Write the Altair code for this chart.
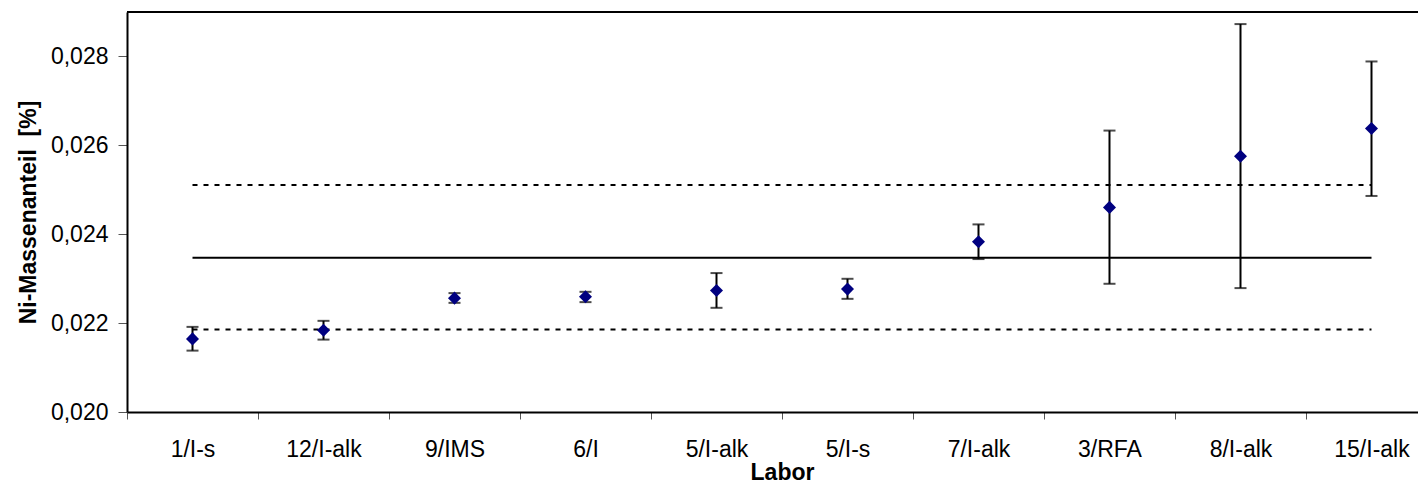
import altair as alt
import pandas as pd

labs = ["1/I-s", "12/I-alk", "9/IMS", "6/I", "5/I-alk", "5/I-s", "7/I-alk", "3/RFA", "8/I-alk", "15/I-alk"]
vals = [0.021645, 0.021841, 0.022562, 0.022592, 0.022734, 0.022765, 0.023831, 0.024604, 0.025753, 0.026377]
lows = [0.021381, 0.021629, 0.022456, 0.022472, 0.022344, 0.022546, 0.023441, 0.022885, 0.022788, 0.024861]
highs = [0.021915, 0.022051, 0.022675, 0.022704, 0.023126, 0.022997, 0.024221, 0.026332, 0.028728, 0.027887]

mean_val = 0.02347
band_upper = 0.025109
band_lower = 0.021859

y_ticks = [0.020, 0.022, 0.024, 0.026, 0.028]

df = pd.DataFrame({
    "idx": [i + 0.5 for i in range(len(labs))],
    "lab": labs,
    "val": vals,
    "lo": lows,
    "hi": highs,
})
ref_solid = pd.DataFrame({"y": [mean_val]})
ref_dash = pd.DataFrame({"y": [band_upper, band_lower]})
top = pd.DataFrame({"y": [0.029]})

FONT = "Liberation Sans"
x_max = 9.855
label_arr = "[" + ",".join("'" + l + "'" for l in labs) + "]"

x_scale = alt.Scale(domain=[0, x_max], nice=False, zero=False)
y_scale = alt.Scale(domain=[0.020, 0.029], nice=False, zero=False)

x_axis = alt.Axis(
    values=list(range(len(labs))),
    labelExpr=label_arr + "[datum.value]",
    labelOffset=65.5,
    labelFont=FONT, labelFontSize=23, labelColor="black",
    labelBaseline="alphabetic", labelPadding=37,
    tickSize=7, tickColor="#555555", tickWidth=1,
    domainColor="black", domainWidth=2,
    grid=False,
    title="Labor", titleFont=FONT, titleFontSize=23, titleFontWeight="bold",
    titleColor="black", titleX=655, titleY=67, titleBaseline="alphabetic",
    titleAlign="center",
    labelFlush=False, labelOverlap=False,
)
y_axis = alt.Axis(
    values=y_ticks,
    labelExpr="replace(format(datum.value, '.3f'), '.', ',')",
    labelFont=FONT, labelFontSize=23, labelColor="black",
    labelPadding=10, tickSize=9, tickColor="#555555", tickWidth=1,
    domainColor="black", domainWidth=2,
    grid=False,
    title="Ni-Massenanteil\u00a0 [%]", titleFont=FONT, titleFontSize=23,
    titleFontWeight="bold", titleColor="black",
    titleX=-99, titleY=200, titleAngle=270, titleAlign="center", titleBaseline="middle",
    labelFlush=False,
)

bars = alt.Chart(df).mark_rule(color="black", strokeWidth=2).encode(
    x=alt.X("idx:Q", scale=x_scale, axis=x_axis),
    y=alt.Y("lo:Q", scale=y_scale, axis=y_axis),
    y2="hi:Q",
)
cap_lo = alt.Chart(df).mark_tick(color="black", orient="horizontal", size=12, thickness=2).encode(
    x="idx:Q", y="lo:Q"
)
cap_hi = alt.Chart(df).mark_tick(color="black", orient="horizontal", size=12, thickness=2).encode(
    x="idx:Q", y="hi:Q"
)
solid = alt.Chart(ref_solid).mark_rule(color="black", strokeWidth=2).encode(
    x=alt.datum(0.5), x2=alt.datum(9.5), y="y:Q"
)
dashed = alt.Chart(ref_dash).mark_rule(color="black", strokeWidth=2, strokeDash=[5, 6]).encode(
    x=alt.datum(0.5), x2=alt.datum(9.5), y="y:Q"
)
frame_top = alt.Chart(top).mark_rule(color="black", strokeWidth=2).encode(
    x=alt.datum(0), x2=alt.datum(x_max), y="y:Q"
)
points = alt.Chart(df).mark_point(shape="diamond", filled=True, color="#000080", size=170, opacity=1).encode(
    x="idx:Q", y="val:Q"
)

chart = alt.layer(solid, dashed, frame_top, bars, cap_lo, cap_hi, points).properties(
    width=1291, height=400,
    autosize="none",
    padding={"left": 127, "top": 12, "right": 0, "bottom": 71},
    background="white",
).configure_view(stroke=None)

chart.save("out.html", embed_options={"renderer": "svg", "actions": False})
